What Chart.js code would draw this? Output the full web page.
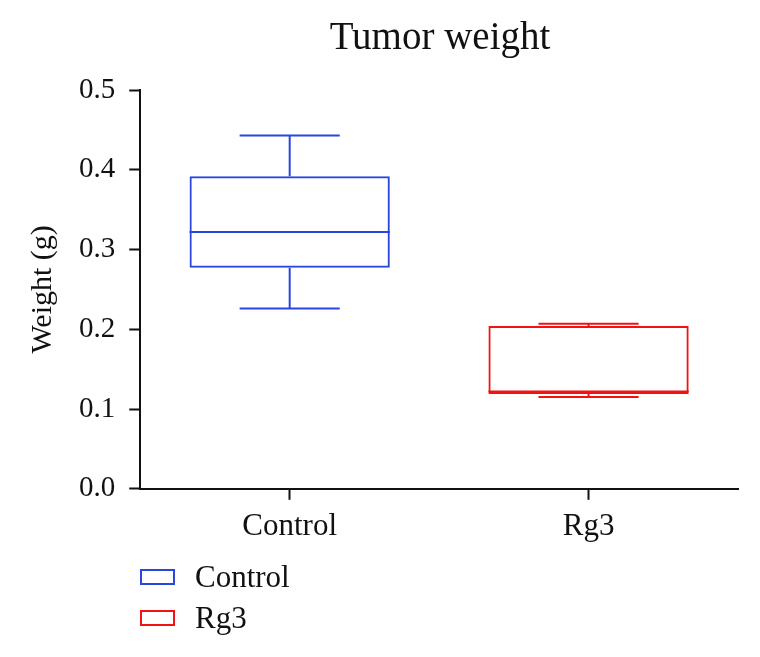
<!DOCTYPE html>
<html>
<head>
<meta charset="utf-8">
<script src="https://cdn.jsdelivr.net/npm/chart.js@4"></script>
<style>
  html, body { margin: 0; padding: 0; background: #fff; }
  #wrap { position: relative; width: 760px; height: 657px; font-family: "Liberation Serif", serif; color: #111; }
  #chart { position: absolute; left: 0; top: 0; }
  #title { position: absolute; top: 13px; left: 240px; width: 400px; text-align: center; font-size: 39px; }
  #legend { position: absolute; left: 140px; top: 556px; font-size: 31px; }
  .item { display: flex; align-items: center; height: 41px; }
  .swatch { width: 31px; height: 12px; border: 2px solid; margin-right: 20px; }
</style>
</head>
<body>
<div id="wrap">
  <canvas id="chart" width="760" height="657"></canvas>
  <div id="title">Tumor weight</div>
  <div id="legend"></div>
</div>
<script>
// --- DATA ---
const categories = ['Control', 'Rg3'];
const mins = [0.226, 0.115];
const q1s = [0.277, 0.119];
const medians = [0.322, 0.122];
const q3s = [0.392, 0.204];
const maxs = [0.443, 0.207];
const yTicks = [0.0, 0.1, 0.2, 0.3, 0.4, 0.5];
const colors = ['#2b45df', '#f21212'];

// one dataset per group, box drawn as a floating bar
const datasets = categories.map((name, i) => ({
    label: name,
    data: categories.map((_, j) => j === i ? [q1s[i], q3s[i]] : null),
    backgroundColor: 'rgba(255,255,255,0)',
    borderColor: colors[i],
    borderWidth: 2,
    borderSkipped: false,
    grouped: false,
    barPercentage: 0.67,
    categoryPercentage: 1.0
}));

// whiskers + median line
const whiskerPlugin = {
    id: 'whiskers',
    afterDatasetsDraw(chart) {
        const ctx = chart.ctx;
        const y = chart.scales.y;
        chart.data.datasets.forEach((ds, i) => {
            const bar = chart.getDatasetMeta(i).data[i];
            if (!bar) return;
            const x = bar.x;
            const half = bar.width / 2;
            const cap = bar.width / 4;
            ctx.save();
            ctx.strokeStyle = colors[i];
            ctx.lineWidth = 2;
            ctx.beginPath();
            // median
            ctx.moveTo(x - half, y.getPixelForValue(medians[i]));
            ctx.lineTo(x + half, y.getPixelForValue(medians[i]));
            // upper whisker
            ctx.moveTo(x, y.getPixelForValue(q3s[i]));
            ctx.lineTo(x, y.getPixelForValue(maxs[i]));
            ctx.moveTo(x - cap, y.getPixelForValue(maxs[i]));
            ctx.lineTo(x + cap, y.getPixelForValue(maxs[i]));
            // lower whisker
            ctx.moveTo(x, y.getPixelForValue(q1s[i]));
            ctx.lineTo(x, y.getPixelForValue(mins[i]));
            ctx.moveTo(x - cap, y.getPixelForValue(mins[i]));
            ctx.lineTo(x + cap, y.getPixelForValue(mins[i]));
            ctx.stroke();
            ctx.restore();
        });
    }
};

const fontFamily = '"Liberation Serif", serif';
const chart = new Chart(document.getElementById('chart'), {
    type: 'bar',
    data: { labels: categories, datasets: datasets },
    options: {
        responsive: false,
        animation: false,
        layout: { padding: { left: 25, right: 22, top: 90, bottom: 104 } },
        plugins: {
            legend: { display: false },
            title: { display: false },
            tooltip: { enabled: false }
        },
        scales: {
            x: {
                grid: { offset: false, drawOnChartArea: false, drawTicks: true, tickLength: 11, tickColor: '#111', tickWidth: 2 },
                border: { color: '#111', width: 2 },
                ticks: { color: '#111', font: { family: fontFamily, size: 31 }, padding: 8 }
            },
            y: {
                min: 0, max: 0.5,
                afterBuildTicks: (axis) => { axis.ticks = yTicks.map(v => ({ value: v })); },
                grid: { drawOnChartArea: false, drawTicks: true, tickLength: 11, tickColor: '#111', tickWidth: 2 },
                border: { color: '#111', width: 2 },
                ticks: { color: '#111', font: { family: fontFamily, size: 29 }, padding: 14,
                         callback: (v) => Number(v).toFixed(1) },
                title: { display: true, text: 'Weight (g)', color: '#111',
                         font: { family: fontFamily, size: 30 }, padding: { top: 0, bottom: 4 } }
            }
        }
    },
    plugins: [whiskerPlugin]
});

// legend
const legend = document.getElementById('legend');
categories.forEach((name, i) => {
    const item = document.createElement('div');
    item.className = 'item';
    item.innerHTML = '<span class="swatch" style="border-color:' + colors[i] + '"></span>' + name;
    legend.appendChild(item);
});
</script>
</body>
</html>
